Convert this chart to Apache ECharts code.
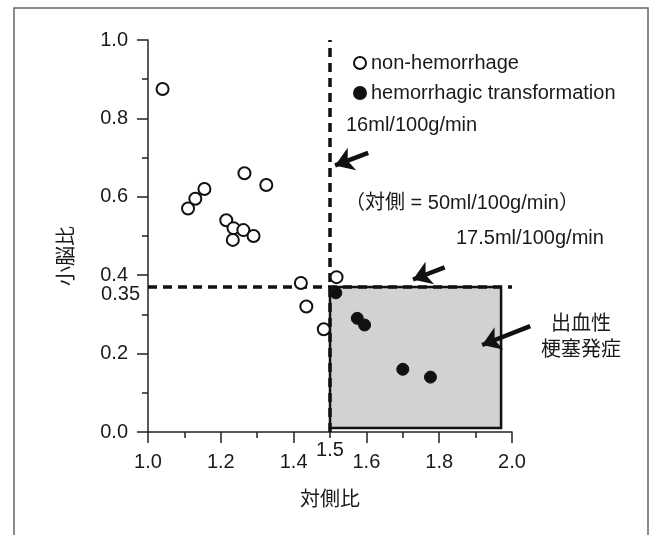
<!DOCTYPE html>
<html>
<head>
<meta charset="utf-8">
<script src="https://cdn.jsdelivr.net/npm/echarts@6/dist/echarts.min.js"></script>
<style>
html,body{margin:0;padding:0;background:#fff;}
#chart{width:655px;height:535px;}
</style>
</head>
<body>
<div id="chart"></div>
<script>
// ---- data ----
const nonHemX = [1.04, 1.265, 1.325, 1.155, 1.13, 1.11, 1.215, 1.235, 1.262, 1.29, 1.233, 1.42, 1.518, 1.435, 1.483];
const nonHemY = [0.875, 0.66, 0.63, 0.62, 0.595, 0.57, 0.54, 0.52, 0.515, 0.50, 0.49, 0.38, 0.395, 0.32, 0.262];
const hemX = [1.516, 1.575, 1.595, 1.70, 1.776];
const hemY = [0.355, 0.29, 0.273, 0.16, 0.14];
const seriesNames = ['non-hemorrhage', 'hemorrhagic transformation'];
const xTicks = [1.0, 1.2, 1.4, 1.6, 1.8, 2.0];
const yTicks = [0.0, 0.2, 0.4, 0.6, 0.8, 1.0];
const thresholdX = 1.5;       // 対側比 threshold
const thresholdY = 0.37;      // 小脳比 threshold line (labelled 0.35)
const refLabelValues = [[1.0, 0.35], [1.5, 0.0]];
const refLabelTexts = ['0.35', '1.5'];
const refLabelPos = ['left', 'bottom'];
const boxX = [1.5, 1.97];
const boxY = [0.01, 0.37];
const arrowFrom = [[1.605, 0.712], [1.815, 0.42], [2.05, 0.27]];
const arrowTo = [[1.514, 0.68], [1.728, 0.389], [1.918, 0.222]];
const texts = ['16ml/100g/min', '（対側 = 50ml/100g/min）', '17.5ml/100g/min', '出血性\n梗塞発症'];
const xName = '対側比';
const yName = '小脳比';

// ---- chart ----
const FONT = '"Liberation Sans", Arial, "Noto Sans CJK JP", sans-serif';
const TXT = '#1a1a1a';
const chart = echarts.init(document.getElementById('chart'), null, {renderer: 'canvas'});

const zip = (xs, ys) => xs.map((x, i) => [x, ys[i]]);

const option = {
  backgroundColor: '#ffffff',
  animation: false,
  textStyle: {fontFamily: FONT, color: TXT},
  grid: {left: 148, right: 143, top: 40, bottom: 103, containLabel: false},
  legend: {
    data: seriesNames,
    orient: 'vertical',
    left: 348, top: 48,
    itemWidth: 12, itemHeight: 12, itemGap: 10,
    textStyle: {fontSize: 20, color: TXT, fontFamily: FONT}
  },
  xAxis: {
    type: 'value', min: 1.0, max: 2.0, interval: 0.2,
    name: xName, nameLocation: 'middle', nameGap: 56,
    nameTextStyle: {fontSize: 20, color: TXT, fontFamily: '"Noto Sans CJK JP", sans-serif'},
    axisLine: {show: true, onZero: false, lineStyle: {color: '#222', width: 1.5}},
    axisTick: {show: true, length: 11, inside: false, lineStyle: {color: '#222', width: 1.5}},
    minorTick: {show: true, splitNumber: 2, length: 6, lineStyle: {color: '#222', width: 1.5}},
    splitLine: {show: false},
    axisLabel: {fontSize: 20, color: TXT, margin: 20, fontFamily: FONT,
      formatter: v => { const t = xTicks.find(k => Math.abs(k - v) < 1e-6); return t === undefined ? '' : t.toFixed(1); }}
  },
  yAxis: {
    type: 'value', min: 0, max: 1.0, interval: 0.2,
    axisLine: {show: true, onZero: false, lineStyle: {color: '#222', width: 1.5}},
    axisTick: {show: true, length: 11, inside: false, lineStyle: {color: '#222', width: 1.5}},
    minorTick: {show: true, splitNumber: 2, length: 6, lineStyle: {color: '#222', width: 1.5}},
    splitLine: {show: false},
    axisLabel: {fontSize: 20, color: TXT, margin: 20, fontFamily: FONT,
      formatter: v => { const t = yTicks.find(k => Math.abs(k - v) < 1e-6); return t === undefined ? '' : t.toFixed(1); }}
  },
  series: [
    {
      name: 'region', type: 'scatter', data: [], z: 1, silent: true,
      markArea: {
        silent: true,
        itemStyle: {color: '#d2d2d2', borderColor: '#111', borderWidth: 2.5},
        data: [[{coord: [boxX[0], boxY[0]]}, {coord: [boxX[1], boxY[1]]}]]
      },
      markLine: {
        silent: true, symbol: ['none', 'none'],
        label: {show: false},
        lineStyle: {color: '#111', width: 3.5, type: [9, 6]},
        data: [
          [{coord: [1.0, thresholdY]}, {coord: [2.0, thresholdY]}],
          [{coord: [thresholdX, 0]}, {coord: [thresholdX, 1.0]}]
        ]
      }
    },
    {
      name: seriesNames[0], type: 'scatter', z: 5,
      symbol: 'circle', symbolSize: 12,
      itemStyle: {color: '#ffffff', borderColor: '#111', borderWidth: 2, opacity: 1},
      data: zip(nonHemX, nonHemY)
    },
    {
      name: seriesNames[1], type: 'scatter', z: 6,
      symbol: 'circle', symbolSize: 12,
      itemStyle: {color: '#111', borderColor: '#111', borderWidth: 1, opacity: 1},
      data: zip(hemX, hemY)
    },
    {
      name: 'refLabels', type: 'scatter', z: 7, clip: false, silent: true,
      symbolSize: 0,
      itemStyle: {opacity: 1},
      data: refLabelValues.map((v, i) => ({
        value: v, name: refLabelTexts[i],
        label: {show: true, position: refLabelPos[i], distance: refLabelPos[i] === 'left' ? 8 : 8,
          formatter: p => p.name, fontSize: 20, color: TXT, fontFamily: FONT, opacity: 1}
      }))
    },
    {
      name: 'arrows', type: 'lines', coordinateSystem: 'cartesian2d', z: 8, silent: true, clip: false,
      symbol: ['none', 'arrow'], symbolSize: 18,
      lineStyle: {color: '#111', width: 4.5, opacity: 1, curveness: 0},
      data: arrowFrom.map((f, i) => ({coords: [f, arrowTo[i]]}))
    }
  ],
  graphic: [
    {type: 'rect', z: 100, silent: true,
      shape: {x: 14, y: 8, width: 634, height: 560},
      style: {fill: 'none', stroke: '#666', lineWidth: 1.5}},
    {type: 'text', left: 346, top: 115, silent: true,
      style: {text: texts[0], font: '20px ' + FONT, fill: TXT}},
    {type: 'text', left: 345, top: 193, silent: true,
      style: {text: texts[1], font: '20px ' + FONT, fill: TXT}},
    {type: 'text', left: 456, top: 228, silent: true,
      style: {text: texts[2], font: '20px ' + FONT, fill: TXT}},
    {type: 'text', x: 581, y: 335, silent: true,
      style: {text: texts[3], font: '20px "Noto Sans CJK JP", sans-serif', fill: TXT,
        textAlign: 'center', textVerticalAlign: 'middle', lineHeight: 26}},
    {type: 'text', x: 65, y: 256, rotation: Math.PI / 2, silent: true,
      style: {text: yName, font: '20px "Noto Sans CJK JP", sans-serif', fill: TXT,
        textAlign: 'center', textVerticalAlign: 'middle'}}
  ]
};
chart.setOption(option);
</script>
</body>
</html>
